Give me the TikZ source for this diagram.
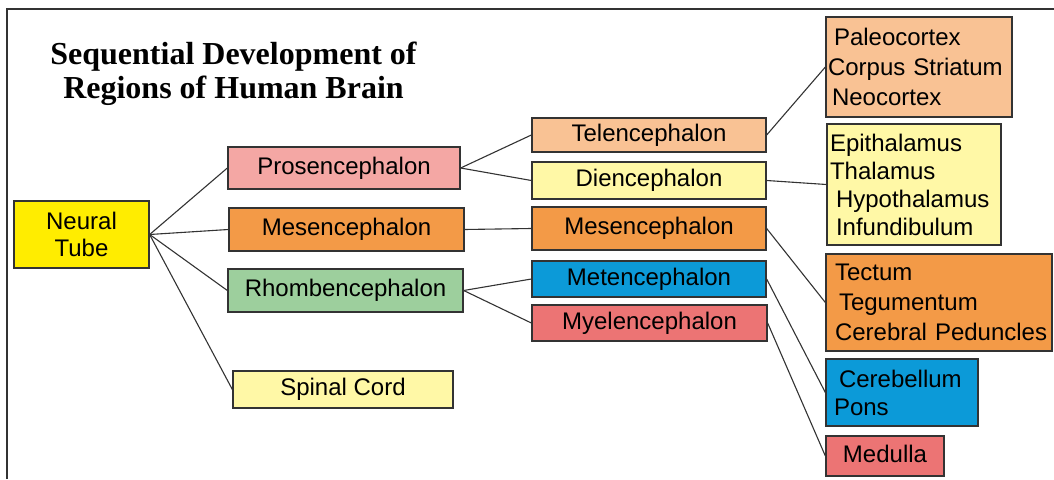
\documentclass[tikz,border=0pt]{standalone}
\usepackage{fontspec}
\setmainfont{Liberation Sans}
\newfontfamily\titlefont{Liberation Serif}
\usepackage{tikz}
\usetikzlibrary{positioning}
\usepackage{xcolor}
\definecolor{edgegray}{HTML}{333333}
\definecolor{tubeyellow}{HTML}{FFED00}
\definecolor{paleyellow}{HTML}{FFF8A6}
\definecolor{prospink}{HTML}{F4A7A4}
\definecolor{mesorange}{HTML}{F39A47}
\definecolor{lightorange}{HTML}{F9C294}
\definecolor{rhombgreen}{HTML}{9DCF9D}
\definecolor{metblue}{HTML}{0C9AD8}
\definecolor{myelred}{HTML}{EC7474}

\begin{document}
\begin{tikzpicture}[x=1pt,y=-1pt,
  box/.style={draw=edgegray, line width=1.3pt, rectangle, inner sep=0pt, font=\fontsize{24}{28}\selectfont},
  one/.style={box, text height=17pt, text depth=5pt},
  list/.style={box, align=left, inner xsep=2pt},
  link/.style={draw=edgegray, line width=1.1pt},
]
  \useasboundingbox (0,0) rectangle (1054,479);
  \draw[edgegray, line width=1.5pt] (7,479) -- (7,9) -- (1054,9);

  \node[font=\fontsize{32}{34}\selectfont\titlefont\bfseries, align=center, inner sep=0pt] (title) at (233.5,74) {Sequential Development of\\Regions of Human Brain};

  \node[box, fill=tubeyellow, align=center, minimum width=135, minimum height=67, font=\fontsize{24}{27}\selectfont] (tube) at (81.5,234.5) {Neural\\Tube};

  \node[one, fill=prospink, minimum width=232, minimum height=42] (pros) at (344,168) {Prosencephalon};
  \node[one, fill=mesorange, minimum width=235, minimum height=43] (mesA) at (346.5,229.5) {Mesencephalon};
  \node[one, fill=rhombgreen, minimum width=235, minimum height=43] (rhomb) at (345.5,290.5) {Rhombencephalon};
  \node[one, fill=paleyellow, minimum width=220, minimum height=37] (spinal) at (343,389.5) {Spinal Cord};

  \node[one, fill=lightorange, minimum width=234, minimum height=34] (telen) at (649,135) {Telencephalon};
  \node[one, fill=paleyellow, minimum width=234, minimum height=37] (dien) at (649,180.5) {Diencephalon};
  \node[one, fill=mesorange, minimum width=234, minimum height=43] (mesB) at (649,228.5) {Mesencephalon};
  \node[one, fill=metblue, minimum width=234, minimum height=36] (meten) at (649,279) {Metencephalon};
  \node[one, fill=myelred, minimum width=235, minimum height=36] (myelen) at (649.5,323) {Myelencephalon};

  \node[list, fill=lightorange, text width=182, minimum height=100, font=\fontsize{24}{30}\selectfont] (cortex) at (919,67) {\hspace*{6pt}Paleocortex\\Corpus Striatum\\\hspace*{4pt}Neocortex};
  \node[list, fill=paleyellow, text width=170, minimum height=121, font=\fontsize{24}{28}\selectfont] (thal) at (914,184.5) {\hspace*{1pt}Epithalamus\\\hspace*{1pt}Thalamus\\\hspace*{7pt}Hypothalamus\\\hspace*{7pt}Infundibulum};
  \node[list, fill=mesorange, text width=222, minimum height=97, font=\fontsize{24}{30}\selectfont] (tectum) at (939,302.5) {\hspace*{7pt}Tectum\\\hspace*{11pt}Tegumentum\\\hspace*{7pt}Cerebral Peduncles};
  \node[list, fill=metblue, text width=148, minimum height=67, font=\fontsize{24}{28}\selectfont] (cereb) at (902,392.5) {\hspace*{11pt}Cerebellum\\\hspace*{6pt}Pons};
  \node[one, fill=myelred, minimum width=118, minimum height=40] (medulla) at (885,456) {Medulla};

  \draw[link] (tube.east) -- (pros.west);
  \draw[link] (tube.east) -- (mesA.west);
  \draw[link] (tube.east) -- (rhomb.west);
  \draw[link] (tube.east) -- (spinal.west);
  \draw[link] (pros.east) -- (telen.west);
  \draw[link] (pros.east) -- (dien.west);
  \draw[link] (mesA.east) -- (mesB.west);
  \draw[link] (rhomb.east) -- (meten.west);
  \draw[link] (rhomb.east) -- (myelen.west);
  \draw[link] (telen.east) -- (cortex.west);
  \draw[link] (dien.east) -- (thal.west);
  \draw[link] (mesB.east) -- (tectum.west);
  \draw[link] (meten.east) -- (cereb.west);
  \draw[link] (myelen.east) -- (medulla.west);
\end{tikzpicture}
\end{document}
